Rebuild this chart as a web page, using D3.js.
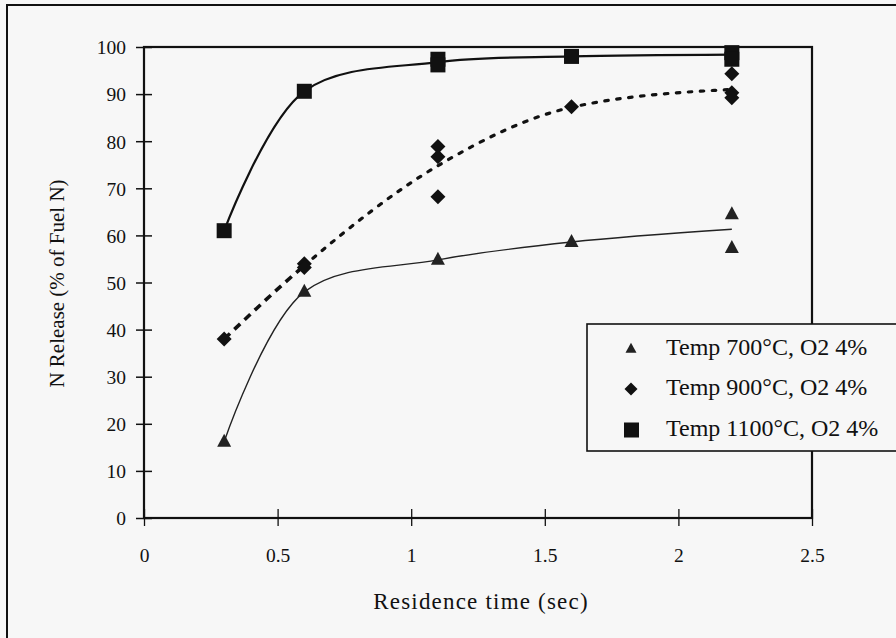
<!DOCTYPE html>
<html><head><meta charset="utf-8">
<script src="https://cdn.jsdelivr.net/npm/d3@7"></script>
<style>
html,body{margin:0;padding:0;background:#f7f7f7;}
svg{display:block;}
text{font-family:"Liberation Serif","Times New Roman",serif;fill:#111;}
</style></head>
<body>
<script>
// ---- data ----
const seriesNames = ["Temp 700°C, O2 4%", "Temp 900°C, O2 4%", "Temp 1100°C, O2 4%"];
const t700X = [0.3, 0.6, 1.1, 1.6, 2.2, 2.2];
const t700Y = [16.2, 48, 54.8, 58.6, 64.5, 57.3];
const t900X = [0.3, 0.6, 0.6, 1.1, 1.1, 1.1, 1.6, 2.2, 2.2, 2.2];
const t900Y = [38, 54, 53.2, 78.9, 76.7, 68.2, 87.3, 94.3, 90.3, 89.2];
const t1100X = [0.3, 0.6, 1.1, 1.1, 1.6, 2.2, 2.2];
const t1100Y = [61, 90.6, 97.4, 96.2, 98, 98.8, 97.4];
const trendX = [0.3, 0.6, 1.1, 1.6, 2.2];
const trend700 = [16.2, 48, 54.8, 58.6, 61.3];
const trend900 = [38, 53.6, 74.8, 87.2, 91];
const trend1100 = [61, 90.6, 96.8, 98, 98.4];
const xTicks = [0, 0.5, 1, 1.5, 2, 2.5];
const yTicks = [0, 10, 20, 30, 40, 50, 60, 70, 80, 90, 100];

const W = 896, H = 638;
const svg = d3.select("body").append("svg").attr("width", W).attr("height", H);
svg.append("rect").attr("width", W).attr("height", H).attr("fill", "#f7f7f7");

// outer chart border (top and left visible)
svg.append("path").attr("d", "M7,640 L7,5 L898,5").attr("fill", "none")
  .attr("stroke", "#111").attr("stroke-width", 2);

const L = 144, R = 812, T = 47, B = 518;
const x = d3.scaleLinear().domain([0, 2.5]).range([L, R]);
const y = d3.scaleLinear().domain([0, 100]).range([B, T]);

// plot frame
svg.append("rect").attr("x", L).attr("y", T).attr("width", R - L).attr("height", B - T)
  .attr("fill", "none").attr("stroke", "#111").attr("stroke-width", 2.2);

// y axis
const yAxis = svg.append("g").attr("transform", `translate(${L},0)`)
  .call(d3.axisLeft(y).tickValues(yTicks).tickSize(8).tickFormat(d3.format("d")));
yAxis.select(".domain").remove();
yAxis.selectAll(".tick line").attr("x2", 8).attr("x1", -8).attr("stroke", "#111").attr("stroke-width", 1.5);
yAxis.selectAll("text").attr("font-size", 19.5).attr("x", -18).attr("dy", "0.35em");

// x axis
const xAxis = svg.append("g").attr("transform", `translate(0,${B})`)
  .call(d3.axisBottom(x).tickValues(xTicks).tickSize(8).tickFormat(d => String(d)));
xAxis.select(".domain").remove();
xAxis.selectAll(".tick line").attr("y1", -9).attr("y2", 8).attr("stroke", "#111").attr("stroke-width", 1.3);
xAxis.selectAll("text").attr("font-size", 19.5).attr("y", 37).attr("dy", "0.35em");

// axis titles
svg.append("text").attr("x", 481).attr("y", 604).attr("text-anchor", "middle")
  .attr("dominant-baseline", "middle").attr("font-size", 23).attr("letter-spacing", 1.2)
  .text("Residence time (sec)");
svg.append("text").attr("transform", `translate(59,${(T + B) / 2 + 1}) rotate(-90)`)
  .attr("text-anchor", "middle").attr("dominant-baseline", "middle")
  .attr("font-size", 21).text("N Release (% of Fuel N)");

// clip regions for the two dash styles of the 900 curve
const defs = svg.append("defs");
defs.append("clipPath").attr("id", "cA").append("rect")
  .attr("x", 0).attr("y", 0).attr("width", x(trendX[1])).attr("height", H);
defs.append("clipPath").attr("id", "cB").append("rect")
  .attr("x", x(trendX[1])).attr("y", 0).attr("width", W).attr("height", H);

// trend curves
const line = (vals, curve) => d3.line().x((d, i) => x(trendX[i])).y(d => y(d)).curve(curve)(vals);
svg.append("path").attr("d", line(trend700, d3.curveCatmullRom.alpha(0.5)))
  .attr("fill", "none").attr("stroke", "#222").attr("stroke-width", 1.4);
const d900 = line(trend900, d3.curveMonotoneX);
svg.append("path").attr("d", d900).attr("clip-path", "url(#cA)")
  .attr("fill", "none").attr("stroke", "#111").attr("stroke-width", 3.6)
  .attr("stroke-dasharray", "8 6");
svg.append("path").attr("d", d900).attr("clip-path", "url(#cB)")
  .attr("fill", "none").attr("stroke", "#111").attr("stroke-width", 3.2)
  .attr("stroke-dasharray", "3.5 8.5").attr("stroke-linecap", "round");
svg.append("path").attr("d", line(trend1100, d3.curveCatmullRom.alpha(0.5)))
  .attr("fill", "none").attr("stroke", "#111").attr("stroke-width", 2.2);

// markers
function diamondPath(r) { return `M0,${-r}L${r},0L0,${r}L${-r},0Z`; }
function trianglePath(w, h) { return `M0,${-h * 0.62}L${w / 2},${h * 0.38}L${-w / 2},${h * 0.38}Z`; }

svg.append("g").selectAll("path").data(t700X).join("path")
  .attr("transform", (d, i) => `translate(${x(d)},${y(t700Y[i])})`)
  .attr("d", trianglePath(14, 13)).attr("fill", "#222");
svg.append("g").selectAll("path").data(t900X).join("path")
  .attr("transform", (d, i) => `translate(${x(d)},${y(t900Y[i])})`)
  .attr("d", diamondPath(7.5)).attr("fill", "#111");
svg.append("g").selectAll("rect").data(t1100X).join("rect")
  .attr("x", d => x(d) - 7.5).attr("y", (d, i) => y(t1100Y[i]) - 7.5)
  .attr("width", 15).attr("height", 15).attr("fill", "#111");

// legend
const lg = svg.append("g");
lg.append("rect").attr("x", 587).attr("y", 324).attr("width", 330).attr("height", 127)
  .attr("fill", "#f7f7f7").attr("stroke", "#111").attr("stroke-width", 1.6);
const rowsY = [349, 389, 430];
lg.append("path").attr("transform", `translate(631,${rowsY[0]})`).attr("d", trianglePath(11, 10)).attr("fill", "#222");
lg.append("path").attr("transform", `translate(631,${rowsY[1]})`).attr("d", diamondPath(6.5)).attr("fill", "#111");
lg.append("rect").attr("x", 624).attr("y", rowsY[2] - 7.5).attr("width", 15).attr("height", 15).attr("fill", "#111");
lg.selectAll("text.lbl").data(seriesNames).join("text").attr("class", "lbl")
  .attr("x", 666).attr("y", (d, i) => rowsY[i]).attr("dominant-baseline", "middle")
  .attr("font-size", 24).text(d => d);
</script>
</body></html>
